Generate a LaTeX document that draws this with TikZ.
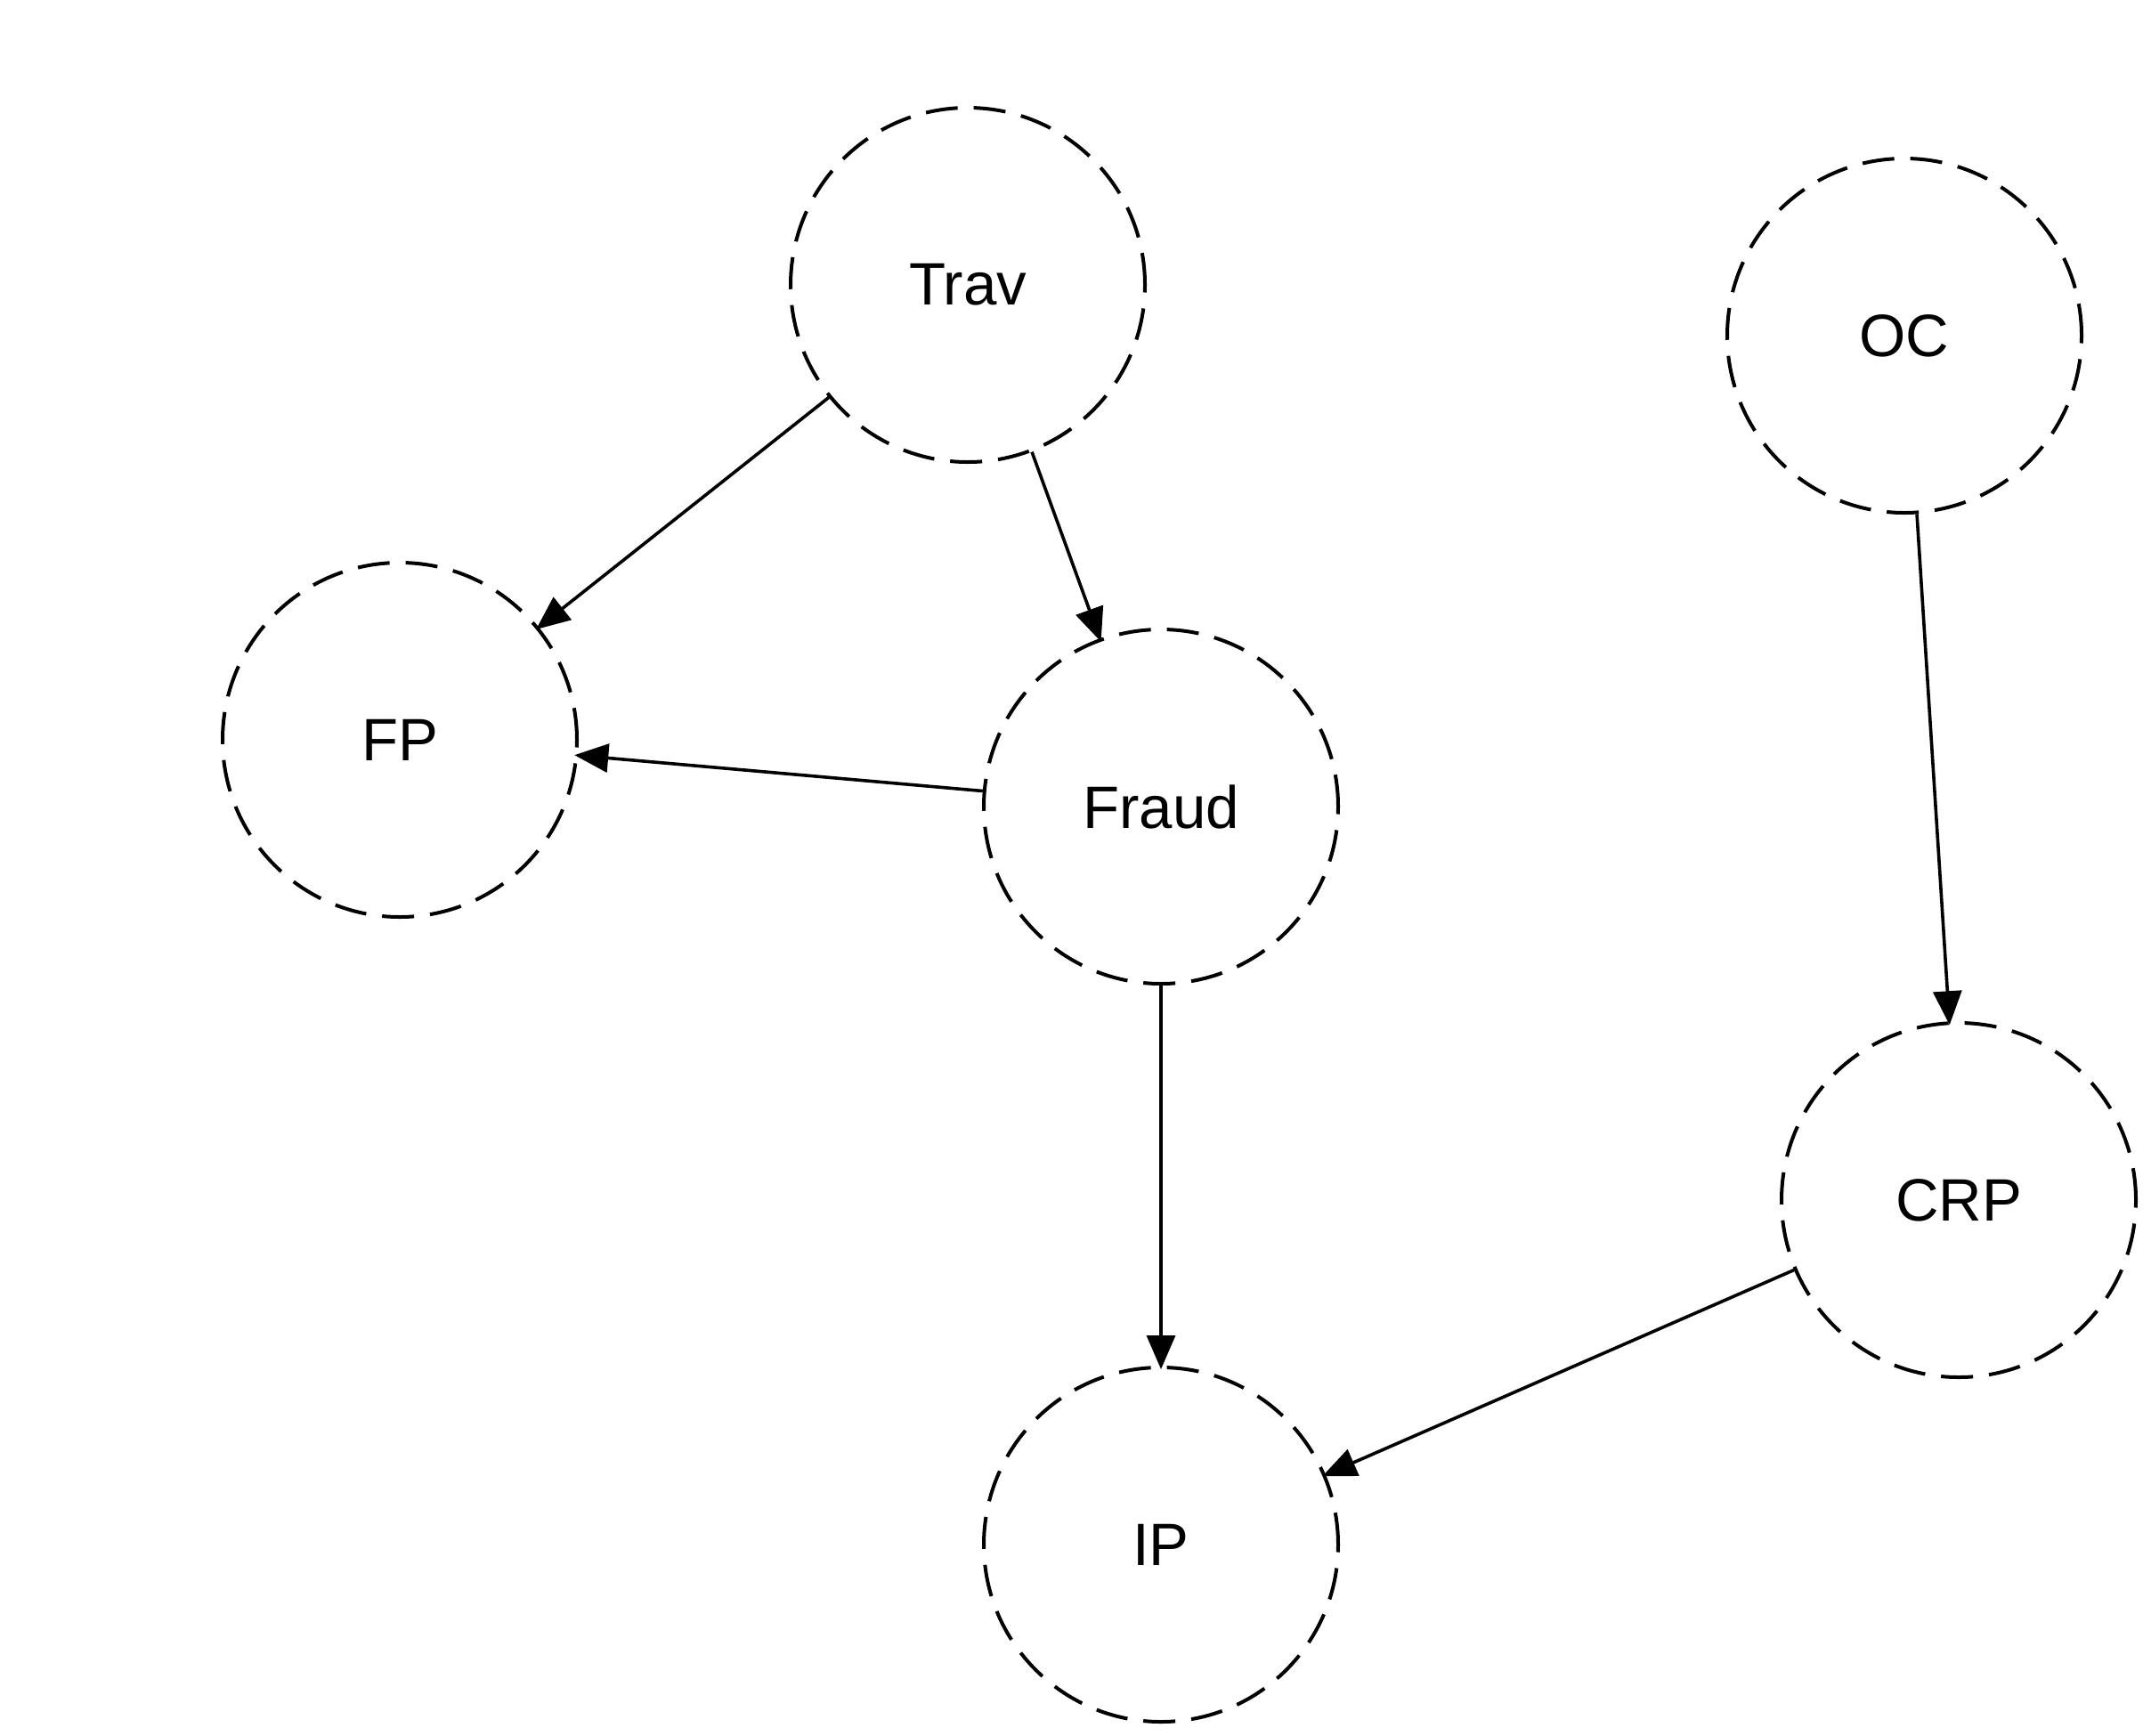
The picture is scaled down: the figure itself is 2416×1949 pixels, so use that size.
\documentclass[tikz,border=0pt]{standalone}
\usepackage{fontspec}
\setmainfont{Liberation Sans}
\usetikzlibrary{arrows.meta}
\begin{document}
\begin{tikzpicture}[x=0.25pt,y=-0.25pt,
  var/.style={circle, draw, dash pattern=on 9pt off 4.5pt, line width=1pt,
    minimum size=99.5pt, inner sep=0pt, font=\fontsize{16.8}{20}\selectfont},
  edge/.style={line width=0.9pt, shorten >=-1pt, -{Triangle[length=9.5pt,width=8pt]}}]
\useasboundingbox (0,0) rectangle (2416,1949);
\node[var] (trav)  at (1087,320)  {Trav};
\node[var] (oc)    at (2139,377)  {OC};
\node[var] (fp)    at (449,831)   {FP};
\node[var] (fraud) at (1304,906)  {Fraud};
\node[var] (crp)   at (2200,1348) {CRP};
\node[var] (ip)    at (1304,1735) {IP};
\draw[edge] (trav.-141.6) -- (fp.39);
\draw[edge] (trav.-69.5) -- (fraud.110.4);
\draw[edge] (fraud.175.1) -- (fp.-5);
\draw[edge] (fraud.-90) -- (ip.90);
\draw[edge] (oc.-86.2) -- (crp.93.7);
\draw[edge] (crp.203.1) -- (ip.23.6);
\end{tikzpicture}
\end{document}
